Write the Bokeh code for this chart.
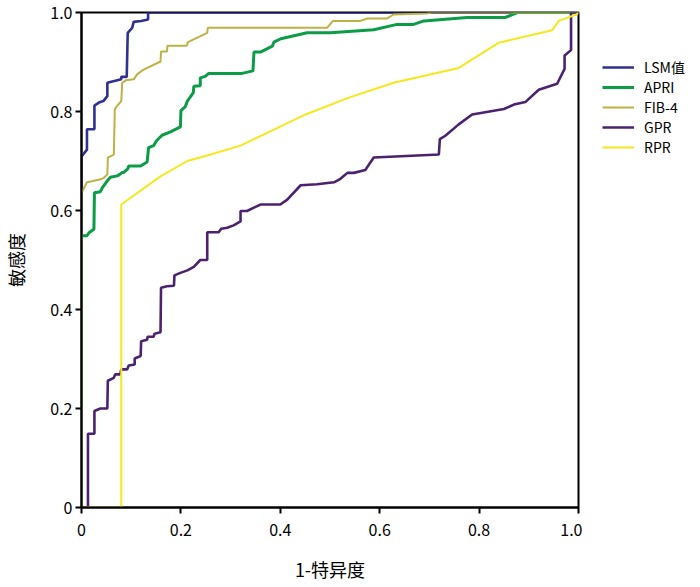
from bokeh.plotting import figure
from bokeh.layouts import row
from bokeh.models import Range1d, Legend, LegendItem, FixedTicker
from bokeh.embed import file_html
from bokeh.resources import INLINE

# ROC curves (x = 1-特异度, y = 敏感度)
LSM_pts = [(0, 0), (0, 0.709), (0.011, 0.723), (0.011, 0.764), (0.026, 0.764), (0.026, 0.812),
           (0.035, 0.818), (0.044, 0.821), (0.052, 0.831), (0.052, 0.858), (0.072, 0.863),
           (0.080, 0.865), (0.080, 0.870), (0.091, 0.870), (0.093, 0.959), (0.102, 0.969),
           (0.105, 0.981), (0.120, 0.983), (0.134, 0.986), (0.134, 1.0), (1.0, 1.0)]

APRI_pts = [(0, 0), (0, 0.549), (0.011, 0.549), (0.015, 0.555), (0.025, 0.562), (0.026, 0.636),
            (0.038, 0.638), (0.042, 0.646), (0.052, 0.660), (0.058, 0.667), (0.072, 0.670),
            (0.077, 0.673), (0.082, 0.677), (0.085, 0.677), (0.093, 0.684), (0.095, 0.690),
            (0.119, 0.690), (0.132, 0.698), (0.135, 0.727), (0.145, 0.731), (0.151, 0.741),
            (0.162, 0.752), (0.179, 0.759), (0.199, 0.769), (0.200, 0.802), (0.209, 0.810),
            (0.213, 0.821), (0.225, 0.838), (0.226, 0.851), (0.239, 0.852), (0.239, 0.868),
            (0.249, 0.871), (0.256, 0.877), (0.323, 0.877), (0.345, 0.882), (0.347, 0.920),
            (0.360, 0.920), (0.384, 0.932), (0.387, 0.940), (0.401, 0.947), (0.454, 0.959),
            (0.501, 0.959), (0.588, 0.965), (0.635, 0.976), (0.668, 0.976), (0.689, 0.983),
            (0.776, 0.990), (0.853, 0.990), (0.877, 1.0), (1.0, 1.0)]

FIB4_pts = [(0, 0), (0, 0.636), (0.011, 0.657), (0.021, 0.659), (0.038, 0.663), (0.045, 0.666),
            (0.052, 0.673), (0.053, 0.707), (0.065, 0.713), (0.067, 0.804), (0.072, 0.812),
            (0.080, 0.821), (0.082, 0.858), (0.089, 0.863), (0.105, 0.865), (0.112, 0.875),
            (0.122, 0.883), (0.159, 0.901), (0.160, 0.921), (0.172, 0.921), (0.173, 0.933),
            (0.212, 0.933), (0.214, 0.940), (0.253, 0.959), (0.254, 0.969), (0.494, 0.969),
            (0.506, 0.983), (0.561, 0.983), (0.575, 0.988), (0.615, 0.988), (0.628, 0.996),
            (0.695, 0.998), (0.705, 1.0), (1.0, 1.0)]

GPR_pts = [(0, 0), (0.013, 0), (0.013, 0.149), (0.026, 0.149), (0.026, 0.195), (0.038, 0.200),
           (0.052, 0.200), (0.053, 0.256), (0.065, 0.262), (0.068, 0.269), (0.078, 0.269),
           (0.080, 0.279), (0.092, 0.279), (0.095, 0.287), (0.107, 0.289), (0.107, 0.301),
           (0.119, 0.306), (0.120, 0.336), (0.132, 0.339), (0.133, 0.345), (0.145, 0.345),
           (0.147, 0.351), (0.159, 0.354), (0.160, 0.444), (0.172, 0.447), (0.186, 0.448),
           (0.187, 0.469), (0.199, 0.474), (0.213, 0.479), (0.226, 0.486), (0.239, 0.500),
           (0.253, 0.500), (0.253, 0.556), (0.276, 0.556), (0.281, 0.563), (0.293, 0.565),
           (0.306, 0.570), (0.320, 0.578), (0.320, 0.599), (0.333, 0.599), (0.360, 0.612),
           (0.400, 0.612), (0.414, 0.622), (0.441, 0.651), (0.474, 0.653), (0.508, 0.657),
           (0.521, 0.664), (0.535, 0.676), (0.548, 0.676), (0.571, 0.682), (0.588, 0.707),
           (0.719, 0.713), (0.721, 0.744), (0.732, 0.751), (0.759, 0.774), (0.786, 0.794),
           (0.850, 0.805), (0.870, 0.814), (0.893, 0.819), (0.920, 0.844), (0.957, 0.856),
           (0.972, 0.886), (0.972, 0.913), (0.985, 0.924), (0.985, 1.0), (1.0, 1.0)]

RPR_pts = [(0, 0), (0.080, 0), (0.080, 0.612), (0.159, 0.669), (0.213, 0.700), (0.260, 0.713),
           (0.320, 0.731), (0.380, 0.760), (0.451, 0.794), (0.538, 0.828), (0.628, 0.858),
           (0.759, 0.888), (0.840, 0.939), (0.947, 0.964), (0.960, 0.983), (0.996, 0.996),
           (1.0, 1.0)]

series_names = ["LSM值", "APRI", "FIB-4", "GPR", "RPR"]
series_pts = [LSM_pts, APRI_pts, FIB4_pts, GPR_pts, RPR_pts]
series_colors = ["#2E3192", "#0C9C48", "#BDB243", "#4B2270", "#F5E81C"]
series_widths = [2.6, 3.0, 2.0, 2.6, 2.0]

tick_values = [0, 0.2, 0.4, 0.6, 0.8, 1.0]
tick_labels = ["0", "0.2", "0.4", "0.6", "0.8", "1.0"]

FONT = "Noto Sans CJK SC"
TOTAL_H = 12 + 495 + 62

p = figure(frame_width=497, frame_height=495, output_backend="svg", toolbar_location=None,
           x_range=Range1d(0, 1), y_range=Range1d(0, 1),
           min_border_left=76, min_border_right=4, min_border_top=12, min_border_bottom=62)
p.grid.visible = False
p.outline_line_color = "black"
p.outline_line_width = 2
p.background_fill_color = "white"

for pts, c, w in zip(series_pts, series_colors, series_widths):
    xs = [a for a, b in pts]
    ys = [b for a, b in pts]
    p.line(xs, ys, line_color=c, line_width=w)

for ax in (p.xaxis[0], p.yaxis[0]):
    ax.ticker = FixedTicker(ticks=tick_values)
    ax.major_label_overrides = {v: l for v, l in zip(tick_values, tick_labels)}
    ax.minor_tick_line_color = None
    ax.major_tick_in = 0
    ax.major_tick_out = 6
    ax.major_tick_line_width = 2
    ax.major_tick_line_color = "black"
    ax.axis_line_width = 2
    ax.axis_line_color = "black"
    ax.major_label_text_font = FONT
    ax.major_label_text_font_size = "16px"
    ax.major_label_text_color = "black"
    ax.axis_label_text_font = FONT
    ax.axis_label_text_font_size = "18px"
    ax.axis_label_text_font_style = "normal"
    ax.axis_label_text_color = "black"

p.xaxis.axis_label = "1-特异度"
p.yaxis.axis_label = "敏感度"
p.xaxis.major_label_standoff = 10
p.yaxis.major_label_standoff = 3
p.xaxis.axis_label_standoff = 17
p.yaxis.axis_label_standoff = 18

# legend panel to the right of the plot (series drawn hidden, only their swatches show)
lg = figure(width=684 - (76 + 497 + 4), height=TOTAL_H, output_backend="svg", toolbar_location=None,
            x_range=Range1d(0, 1), y_range=Range1d(0, 1),
            min_border_left=0, min_border_right=0, min_border_top=0, min_border_bottom=0)
lg.axis.visible = False
lg.grid.visible = False
lg.outline_line_color = None
swatches = []
for pts, c, w in zip(series_pts, series_colors, series_widths):
    xs = [a for a, b in pts]
    ys = [b for a, b in pts]
    swatches.append(lg.line(xs, ys, line_color=c, line_width=w, visible=False))

legend = Legend(items=[LegendItem(label=n, renderers=[r]) for n, r in zip(series_names, swatches)],
                location="top_left")
legend.padding = 0
legend.margin = 20
legend.spacing = 0
legend.label_height = 20
legend.glyph_height = 20
legend.glyph_width = 32
legend.label_standoff = 10
legend.border_line_color = None
legend.background_fill_alpha = 0
legend.label_text_font = FONT
legend.label_text_font_size = "14px"
legend.label_text_color = "black"
legend.title = " "
legend.title_text_font_size = "12px"
legend.title_standoff = 11
lg.add_layout(legend, "center")

layout = row(p, lg)
open("out.html", "w").write(file_html(layout, INLINE))
